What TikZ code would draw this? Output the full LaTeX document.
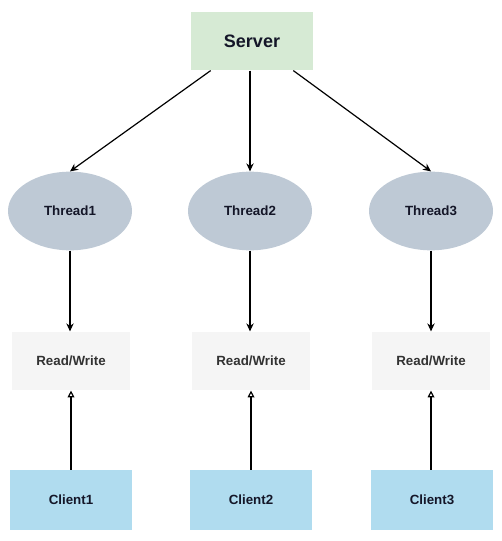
\documentclass[tikz,border=0pt]{standalone}
\usepackage{fontspec}
\setmainfont{Liberation Sans}
\usetikzlibrary{shapes.geometric,arrows.meta}
\definecolor{srvfill}{RGB}{214,234,212}
\definecolor{thrfill}{RGB}{190,201,213}
\definecolor{rwfill}{RGB}{245,245,245}
\definecolor{clifill}{RGB}{176,220,239}
\definecolor{txtdark}{RGB}{20,22,40}
\definecolor{txtgray}{RGB}{50,50,50}
\tikzset{
  srvbox/.style={rectangle, fill=srvfill, minimum width=91pt, minimum height=44pt, inner sep=0pt, font=\bfseries\fontsize{13.5pt}{16pt}\selectfont, text=txtdark},
  thrnode/.style={ellipse, fill=thrfill, minimum width=93pt, minimum height=59pt, inner sep=0pt, font=\bfseries\fontsize{10pt}{12pt}\selectfont, text=txtdark},
  rwbox/.style={rectangle, fill=rwfill, minimum width=89pt, minimum height=44pt, inner sep=0pt, font=\bfseries\fontsize{10pt}{12pt}\selectfont, text=txtgray},
  clibox/.style={rectangle, fill=clifill, minimum width=91pt, minimum height=45pt, inner sep=0pt, font=\bfseries\fontsize{10pt}{12pt}\selectfont, text=txtdark},
  downarr/.style={draw=black, line width=0.9pt, -{Stealth[length=6pt,width=5.5pt]}},
  uparr/.style={draw=black, line width=0.9pt, -{Triangle[open,length=5pt,width=5pt]}},
}
\begin{document}
\begin{tikzpicture}[x=0.75pt,y=-0.75pt]
\useasboundingbox (0,0) rectangle (501,541);
\node[srvbox] (server) at (252,41) {Server};
\node[thrnode] (t1) at (70,211) {Thread1};
\node[thrnode] (t2) at (250,211) {Thread2};
\node[thrnode] (t3) at (431,211) {Thread3};
\node[rwbox] (rw1) at (71,361) {Read/Write};
\node[rwbox] (rw2) at (251,361) {Read/Write};
\node[rwbox] (rw3) at (431,361) {Read/Write};
\node[clibox] (c1) at (71,500) {Client1};
\node[clibox] (c2) at (251,500) {Client2};
\node[clibox] (c3) at (432,500) {Client3};
\draw[downarr] ([xshift=-31pt]server.south) -- (t1.north);
\draw[downarr] ([xshift=-1.5pt]server.south) -- (t2.north);
\draw[downarr] ([xshift=31pt]server.south) -- (t3.north);
\draw[downarr] (t1.south) -- (rw1.north -| t1.south);
\draw[downarr] (t2.south) -- (rw2.north -| t2.south);
\draw[downarr] (t3.south) -- (rw3.north -| t3.south);
\draw[uparr] (c1.north -| rw1.south) -- (rw1.south);
\draw[uparr] (c2.north -| rw2.south) -- (rw2.south);
\draw[uparr] (c3.north -| rw3.south) -- (rw3.south);
\end{tikzpicture}
\end{document}
